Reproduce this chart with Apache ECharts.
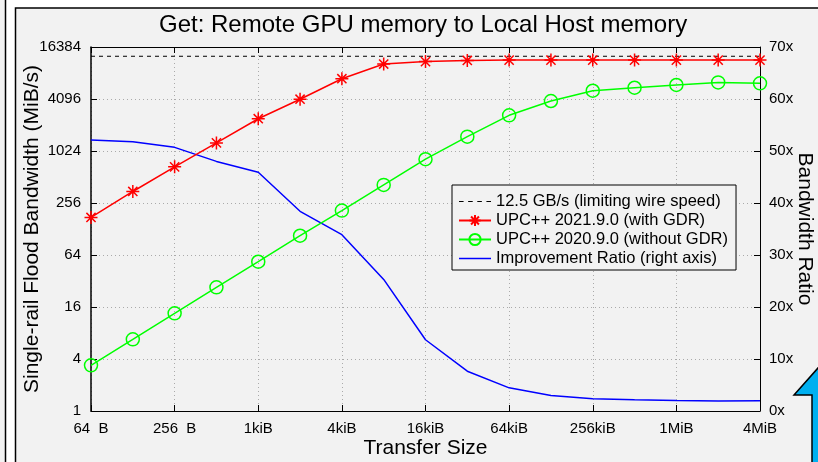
<!DOCTYPE html>
<html>
<head>
<meta charset="utf-8">
<script src="https://cdn.jsdelivr.net/npm/echarts@6/dist/echarts.min.js"></script>
<style>
  html, body { margin: 0; padding: 0; background: #fff; }
  #chart { width: 818px; height: 462px; }
</style>
</head>
<body>
<div id="chart"></div>
<script>
// transfer sizes in bytes, 64 B .. 4 MiB
const sizes = [64, 128, 256, 512, 1024, 2048, 4096, 8192, 16384, 32768, 65536,
  131072, 262144, 524288, 1048576, 2097152, 4194304];
// MiB/s
const withGdr = [174, 348, 671, 1270, 2420, 4070, 7030, 10400, 11100, 11450, 11550,
  11550, 11550, 11550, 11550, 11550, 11550];
const withoutGdr = [3.38, 6.76, 13.5, 27, 53.5, 107, 209, 415, 823, 1500, 2650,
  3880, 5110, 5530, 5950, 6380, 6220];
// right axis
const ratio = [52.1, 51.8, 50.7, 48.0, 45.9, 38.4, 33.9, 25.3, 13.7, 7.65, 4.45,
  2.98, 2.34, 2.15, 2.0, 1.9, 1.95];
const wireSpeed = 12800;
const wireSizes = [64, 4194304];

const xTickLabels = { 64: '64  B', 256: '256  B', 1024: '1kiB', 4096: '4kiB', 16384: '16kiB',
  65536: '64kiB', 262144: '256kiB', 1048576: '1MiB', 4194304: '4MiB' };

const names = ['12.5 GB/s (limiting wire speed)', 'UPC++ 2021.9.0 (with GDR)',
  'UPC++ 2020.9.0 (without GDR)', 'Improvement Ratio (right axis)'];

const font = 'Liberation Sans';
const star = 'path://M0,-1L0,1M-1,0L1,0M-0.707,-0.707L0.707,0.707M-0.707,0.707L0.707,-0.707';
const dashIcon = 'path://M0,0h4v1h-4zM8,0h4v1h-4zM16,0h4v1h-4zM24,0h4v1h-4z';
const lineIcon = 'path://M0,0h32v1.5h-32z';

let mycharts = echarts.init(document.getElementById('chart'));
let option = {
    backgroundColor: '#ffffff',
    animation: false,
    textStyle: { fontFamily: font, color: '#000' },
    graphic: [
        { type: 'rect', z: -10, shape: { x: -10, y: -10, width: 15.5, height: 500 },
          style: { fill: '#f2f2f2', stroke: '#000', lineWidth: 1.5 } },
        { type: 'rect', z: -10, shape: { x: 15.5, y: 8, width: 900, height: 500 },
          style: { fill: '#f2f2f2', stroke: '#000', lineWidth: 1.5 } },
        { type: 'polygon', z: 100,
          shape: { points: [[794, 395], [818, 368], [842, 395], [836, 395], [836, 470], [812, 470], [812, 395]] },
          style: { fill: '#00b0f0', stroke: '#000', lineWidth: 1.5 } }
    ],
    title: {
        text: 'Get: Remote GPU memory to Local Host memory',
        left: 154,
        top: 8,
        textStyle: { fontFamily: font, fontSize: 24, fontWeight: 'normal', color: '#000' }
    },
    legend: {
        orient: 'vertical',
        left: 452,
        top: 185,
        data: [
            { name: names[0], icon: dashIcon },
            { name: names[1] },
            { name: names[2] },
            { name: names[3], icon: lineIcon }
        ],
        padding: [8, 8, 3, 6],
        itemGap: 2,
        itemWidth: 32,
        itemHeight: 14,
        borderColor: '#000',
        borderWidth: 1,
        backgroundColor: '#f2f2f2',
        textStyle: { fontFamily: font, fontSize: 16.5, color: '#000' }
    },
    grid: { left: 91, right: 58, top: 47, bottom: 51, show: false, containLabel: false, outerBoundsMode: 'none' },
    xAxis: [{
        type: 'log',
        logBase: 4,
        min: 64,
        max: 4194304,
        name: 'Transfer Size',
        nameLocation: 'middle',
        nameMoveOverlap: false,
        nameGap: 27,
        nameTextStyle: { fontFamily: font, fontSize: 21, color: '#000' },
        axisLine: { show: true, lineStyle: { color: '#000', width: 1 } },
        axisTick: { show: true, inside: true, length: 6, lineStyle: { color: '#000' } },
        minorTick: { show: false },
        axisLabel: {
            fontFamily: font, fontSize: 15, color: '#000', margin: 10,
            formatter: function (v) { return xTickLabels[Math.round(v)] || ''; }
        },
        splitLine: { show: true, lineStyle: { color: '#aaaaaa', type: [1, 3] } }
    }, {
        type: 'log',
        logBase: 4,
        min: 64,
        max: 4194304,
        position: 'top',
        axisLine: { show: true, lineStyle: { color: '#000', width: 1 } },
        axisTick: { show: true, inside: true, length: 6, lineStyle: { color: '#000' } },
        axisLabel: { show: false },
        splitLine: { show: false }
    }],
    yAxis: [{
        type: 'log',
        logBase: 4,
        min: 1,
        max: 16384,
        name: 'Single-rail Flood Bandwidth (MiB/s)',
        nameLocation: 'middle',
        nameMoveOverlap: false,
        nameGap: 48,
        nameTextStyle: { fontFamily: font, fontSize: 21, color: '#000' },
        axisLine: { show: true, lineStyle: { color: '#000', width: 1.5 } },
        axisTick: { show: true, inside: true, length: 6, lineStyle: { color: '#000' } },
        axisLabel: {
            fontFamily: font, fontSize: 15, color: '#000', margin: 10,
            formatter: function (v) { return String(Math.round(v)); }
        },
        splitLine: { show: true, lineStyle: { color: '#aaaaaa', type: [1, 3] } }
    }, {
        type: 'value',
        min: 0,
        max: 70,
        interval: 10,
        position: 'right',
        name: 'Bandwidth Ratio',
        nameLocation: 'middle',
        nameMoveOverlap: false,
        nameGap: 34,
        nameRotate: -90,
        nameTextStyle: { fontFamily: font, fontSize: 21, color: '#000' },
        axisLine: { show: true, lineStyle: { color: '#000', width: 1 } },
        axisTick: { show: true, inside: true, length: 6, lineStyle: { color: '#000' } },
        axisLabel: { fontFamily: font, fontSize: 15, color: '#000', margin: 9, formatter: '{value}x' },
        splitLine: { show: false }
    }],
    series: [
        {
            name: names[0],
            type: 'line',
            data: wireSizes.map(function (s) { return [s, wireSpeed]; }),
            symbol: 'none',
            lineStyle: { color: '#000', width: 1, type: [4, 4] },
            itemStyle: { color: '#000' },
            z: 3
        },
        {
            name: names[1],
            type: 'line',
            data: sizes.map(function (s, i) { return [s, withGdr[i]]; }),
            symbol: star,
            symbolSize: 13,
            showAllSymbol: true,
            lineStyle: { color: '#ff0000', width: 1.5 },
            itemStyle: { color: 'rgba(0,0,0,0)', borderColor: '#ff0000', borderWidth: 1.5 },
            z: 4
        },
        {
            name: names[2],
            type: 'line',
            data: sizes.map(function (s, i) { return [s, withoutGdr[i]]; }),
            symbol: 'circle',
            symbolSize: 13,
            showAllSymbol: true,
            lineStyle: { color: '#00ff00', width: 1.5 },
            itemStyle: { color: 'rgba(0,0,0,0)', borderColor: '#00ff00', borderWidth: 1.5 },
            z: 4
        },
        {
            name: names[3],
            type: 'line',
            yAxisIndex: 1,
            data: sizes.map(function (s, i) { return [s, ratio[i]]; }),
            symbol: 'none',
            lineStyle: { color: '#0000ff', width: 1.5 },
            itemStyle: { color: '#0000ff' },
            z: 3
        }
    ]
};
mycharts.setOption(option);
window.addEventListener('resize', function () {
    mycharts.resize();
});
</script>
</body>
</html>
